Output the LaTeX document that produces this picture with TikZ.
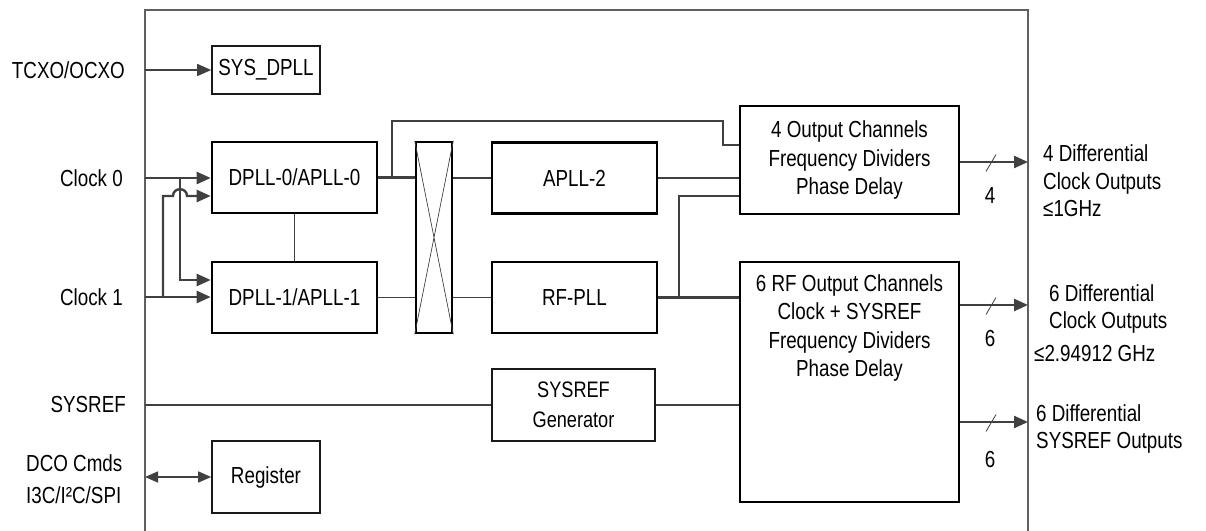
\documentclass[tikz,border=0pt]{standalone}
\usepackage{fontspec}
\setmainfont[FakeStretch=0.81]{Liberation Sans}
\usetikzlibrary{arrows.meta}
\definecolor{linec}{RGB}{64,64,64}
\definecolor{framec}{RGB}{96,96,96}
\begin{document}
\begin{tikzpicture}[x=1bp,y=-1bp,
  every node/.style={font=\fontsize{23.3}{29}\selectfont, text=black, inner sep=0pt},
  box/.style={draw=black, line width=2.6bp, minimum width=165bp, minimum height=71bp, align=center},
  tbox/.style={draw=black!90, line width=1.6bp, align=center},
  conn/.style={draw=linec, line width=2.4bp},
  thinc/.style={draw=linec, line width=1.5bp},
  hair/.style={draw=linec, line width=1bp},
  arr/.style={-{Triangle[length=14bp,width=12bp]}},
  arrb/.style={{Triangle[length=13bp,width=11bp]}-{Triangle[length=13bp,width=11bp]}},
  lbl/.style={align=left}
]
\useasboundingbox (0,0) rectangle (1206,531);
% frame
\draw[framec, line width=1.3bp] (145,531) -- (145,10) -- (1028,10) -- (1028,531);

% boxes
\node[tbox, minimum width=108bp, minimum height=48bp] (sys) at (266,70) {SYS\_DPLL};
\node[box] (d0) at (294.5,177.5) {DPLL-0/APLL-0};
\node[box] (d1) at (294.5,297.5) {DPLL-1/APLL-1};
\node[box, minimum width=36bp, minimum height=191bp] (xb) at (434,237.5) {};
\draw[linec, line width=0.7bp] (xb.north west) -- (xb.south east) (xb.north east) -- (xb.south west);
\node[box] (a2) at (574.5,178) {APLL-2};
\node[box] (rf) at (574.5,297.5) {RF-PLL};
\node[box, minimum width=219bp, minimum height=108bp] (o4) at (849.5,160) {4 Output Channels\\Frequency Dividers\\Phase Delay};
\node[box, minimum width=219bp, minimum height=240bp] (o6) at (849.5,382) {};
\node[align=center, font=\fontsize{23.3}{28.5}\selectfont] (o6t) at (849.5,328) {6 RF Output Channels\\Clock + SYSREF\\Frequency Dividers\\Phase Delay};
\node[tbox, minimum width=163bp, minimum height=72bp, font=\fontsize{22.5}{30}\selectfont] (sg) at (573.5,405) {SYSREF\\Generator};
\node[tbox, minimum width=108bp, minimum height=72bp] (reg) at (266,477) {Register};

% left labels
\node[anchor=east] (ltc) at (125,70) {TCXO/OCXO};
\node[anchor=east] (lc0) at (123,178) {Clock 0};
\node[anchor=east] (lc1) at (123,297) {Clock 1};
\node[anchor=east] (lsr) at (126,405) {SYSREF};
\node[anchor=west, lbl, font=\fontsize{23.3}{32}\selectfont] (ldco) at (26,479) {DCO Cmds\\I3C/I²C/SPI};

% input coordinates on frame
\coordinate (tin) at (145,70);
\coordinate (c0) at (145,178);
\coordinate (c1) at (145,297);
\coordinate (sin) at (145,405);
\coordinate (rin) at (145,477);
\coordinate (j0) at (180,178);
\coordinate (j1) at (163,297);

\draw[thinc, arr] (tin) -- (sys.west);
\draw[conn, arr] (c0) -- (d0.west |- c0);
\draw[conn, arr] (c1) -- (d1.west |- c1);
\draw[conn, arr] (j0) -- (180,280) -- (d1.west |- 0,280);
\draw[conn, arr] (j1) -- (163,196) -- (173,196) .. controls (173,187) and (187,187) .. (187,196) -- (d0.west |- 0,196);
\draw[hair] (d0.south) -- (d1.north);

% to crossbar
\coordinate (b0) at (392,177.5);
\draw[conn] (d0.east) -- (xb.west |- d0.east);
\draw[conn] (b0) -- (392,121) -- (723,121) -- (723,145) -- (o4.west |- 0,145);
\draw[thinc, line width=1.9bp] (d1.east) -- (xb.west |- d1.east);
\draw[thinc, line width=1.9bp] (xb.east |- a2.west) -- (a2.west);
\draw[thinc, line width=1.9bp] (xb.east |- rf.west) -- (rf.west);
\draw[conn] (a2.east) -- (o4.west |- a2.east);
\draw[conn] (rf.east) -- (o6.west |- rf.east);
\coordinate (b1) at (679,297.5);
\draw[thinc] (b1) -- (679,196) -- (o4.west |- 0,196);

% sysref path
\draw[thinc, line width=1.3bp] (sin) -- (sg.west);
\draw[thinc, line width=1.3bp] (sg.east) -- (o6.west |- sg.east);

% register
\draw[thinc, arrb] (rin) -- (reg.west);

% outputs
\coordinate (r1) at (1028,162);
\coordinate (r2) at (1028,305);
\coordinate (r3) at (1028,422);
\draw[conn, arr] (o4.east |- r1) -- (r1);
\draw[conn, arr] (o6.east |- r2) -- (r2);
\draw[conn, arr] (o6.east |- r3) -- (r3);
\draw[linec, line width=0.8bp] (986,171.5) -- (996,154.5);
\draw[linec, line width=0.8bp] (986,314.5) -- (996,297.5);
\draw[linec, line width=0.8bp] (986,431.5) -- (996,414.5);
\node (n1) at (990,196) {4};
\node (n2) at (990,339) {6};
\node (n3) at (990,460) {6};

% right labels
\node[anchor=west, lbl, font=\fontsize{23.3}{27.5}\selectfont] (o1l) at (1043,181) {4 Differential\\Clock Outputs\\≤1GHz};
\node[anchor=west, lbl, font=\fontsize{23.3}{28}\selectfont] (o2l) at (1049,309) {6 Differential\\Clock Outputs};
\node[anchor=west] (o2f) at (1034,354) {≤2.94912 GHz};
\node[anchor=west, lbl, font=\fontsize{23.3}{27.5}\selectfont] (o3l) at (1036,429) {6 Differential\\SYSREF Outputs};
\end{tikzpicture}
\end{document}
